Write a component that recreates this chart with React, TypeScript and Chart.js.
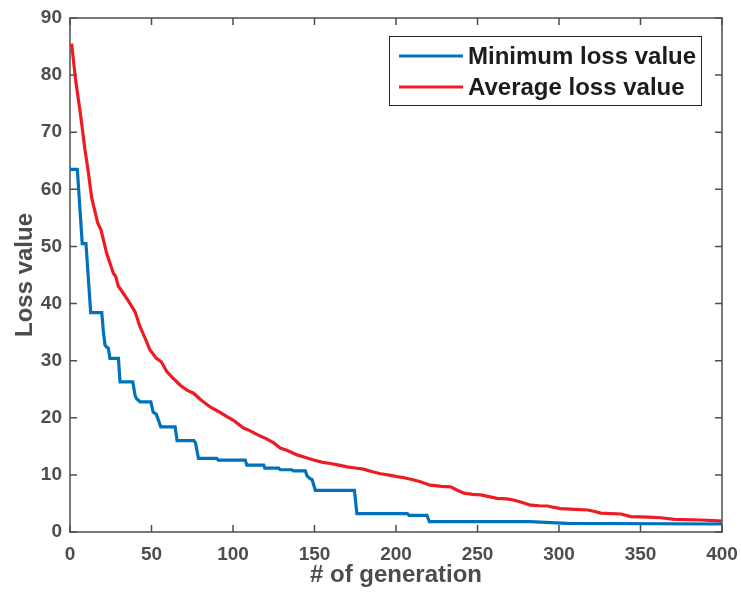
import { useEffect, useRef } from "react";
import { Chart, registerables } from "chart.js";

Chart.register(...registerables);

// Best (minimum) loss per generation, as corner points of the step curve
const minGen = [
  0, 4.5, 7.5, 9.8, 12.7, 19.5, 20.5, 21.5, 22.5, 23.5, 24.5, 29.7, 30.7, 38.5, 40, 41, 43, 49.6, 51, 53,
  55.7, 64.5, 65.7, 76, 77, 78.8, 90, 91, 107.5, 108.5, 118.8, 119.5, 128, 129, 136, 137, 144.4, 145.5,
  147.5, 148.5, 150.5, 174.5, 176, 207, 208, 219, 220.5, 282, 305, 400,
];
const minLoss = [
  63.5, 63.5, 50.5, 50.5, 38.4, 38.4, 35, 32.7, 32.4, 32.2, 30.4, 30.4, 26.3, 26.3, 23.8, 23.3, 22.8, 22.8,
  21.0, 20.6, 18.4, 18.4, 16.0, 16.0, 15.6, 12.9, 12.9, 12.6, 12.6, 11.7, 11.7, 11.2, 11.2, 10.9, 10.9,
  10.7, 10.7, 9.8, 9.3, 9.2, 7.3, 7.3, 3.2, 3.2, 2.9, 2.9, 1.8, 1.8, 1.5, 1.4,
];

// Population average loss per generation
const avgGen = [
  1, 3.5, 6.5, 9.2, 11, 13.3, 15, 17, 19, 22.5, 26.6, 28, 29.7, 31, 33.4, 37.9, 40, 43, 46, 49, 53, 56,
  59.4, 63, 67.6, 72, 75.8, 80, 86, 91, 96.3, 100, 106.5, 110, 116.7, 120, 125, 129, 133, 139.3, 145,
  149.5, 155, 159.8, 165, 170, 175, 180, 185, 190.5, 195, 200.7, 205, 211, 215, 221, 228, 233.5, 237,
  241.7, 247, 252, 257, 262, 268, 272, 277, 282.6, 288, 293, 297, 301, 310, 317.5, 322, 325.6, 338, 344,
  355, 362.5, 370.7, 387, 395, 400,
];
const avgLoss = [
  85.5, 79, 73, 66.9, 63.5, 58.5, 56.5, 54.1, 52.9, 48.8, 45.3, 44.8, 43, 42.5, 41.5, 39.5, 38.5, 35.9, 34,
  31.9, 30.4, 29.8, 28.1, 27, 25.7, 24.8, 24.3, 23.2, 21.9, 21.1, 20.2, 19.6, 18.2, 17.8, 16.8, 16.4, 15.6,
  14.7, 14.3, 13.5, 13, 12.6, 12.2, 12.0, 11.7, 11.4, 11.2, 11.0, 10.6, 10.2, 10.0, 9.7, 9.5, 9.1, 8.8,
  8.2, 8.0, 7.9, 7.4, 6.8, 6.6, 6.5, 6.2, 5.9, 5.8, 5.6, 5.2, 4.7, 4.6, 4.55, 4.3, 4.1, 3.95, 3.85, 3.6,
  3.3, 3.15, 2.7, 2.6, 2.5, 2.2, 2.1, 2.0, 1.9,
];

const seriesLabels = ["Minimum loss value", "Average loss value"];
const seriesColors = ["#0072BD", "#ED1C24"];
const xTicks = [0, 50, 100, 150, 200, 250, 300, 350, 400];
const yTicks = [0, 10, 20, 30, 40, 50, 60, 70, 80, 90];
const xTitle = "# of generation";
const yTitle = "Loss value";

const FONT = "'Liberation Sans', Arial, Helvetica, sans-serif";
const AXIS_COLOR = "#4d4d4d";
const TEXT_COLOR = "#1c1c1c";

// Box around the plot with inward tick marks on all four sides
const framePlugin = {
  id: "frame",
  beforeDatasetsDraw(chart: any) {
    const { ctx, chartArea, scales } = chart;
    const { left, right, top, bottom } = chartArea;
    const len = 7;
    ctx.save();
    ctx.strokeStyle = AXIS_COLOR;
    ctx.lineWidth = 1.5;
    ctx.strokeRect(left, top, right - left, bottom - top);
    ctx.beginPath();
    for (const v of xTicks) {
      const px = scales.x.getPixelForValue(v);
      ctx.moveTo(px, bottom);
      ctx.lineTo(px, bottom - len);
      ctx.moveTo(px, top);
      ctx.lineTo(px, top + len);
    }
    for (const v of yTicks) {
      const py = scales.y.getPixelForValue(v);
      ctx.moveTo(left, py);
      ctx.lineTo(left + len, py);
      ctx.moveTo(right, py);
      ctx.lineTo(right - len, py);
    }
    ctx.stroke();
    ctx.restore();
  },
};

// Boxed legend in the upper-right corner of the plot
const boxLegendPlugin = {
  id: "boxLegend",
  afterDraw(chart: any) {
    const { ctx, chartArea } = chart;
    const w = 312;
    const h = 69;
    const x0 = chartArea.right - 21 - w;
    const y0 = chartArea.top + 18;
    ctx.save();
    ctx.fillStyle = "#ffffff";
    ctx.fillRect(x0, y0, w, h);
    ctx.strokeStyle = "#262626";
    ctx.lineWidth = 1;
    ctx.strokeRect(x0 + 0.5, y0 + 0.5, w, h);
    ctx.font = `bold 24px ${FONT}`;
    ctx.textBaseline = "middle";
    ctx.textAlign = "left";
    chart.data.datasets.forEach((ds: any, i: number) => {
      const cy = y0 + 20 + i * 31;
      ctx.strokeStyle = ds.borderColor;
      ctx.lineWidth = 3;
      ctx.beginPath();
      ctx.moveTo(x0 + 10, cy);
      ctx.lineTo(x0 + 74, cy);
      ctx.stroke();
      ctx.fillStyle = TEXT_COLOR;
      ctx.fillText(ds.label, x0 + 79, cy + 1);
    });
    ctx.restore();
  },
};

export default function App() {
  const canvasRef = useRef<HTMLCanvasElement | null>(null);

  useEffect(() => {
    const canvas = canvasRef.current;
    if (!canvas) return;
    const chart = new Chart(canvas, {
      type: "line",
      data: {
        datasets: [
          {
            label: seriesLabels[0],
            data: minGen.map((g, i) => ({ x: g, y: minLoss[i] })),
            borderColor: seriesColors[0],
            borderWidth: 3.2,
            pointRadius: 0,
            tension: 0,
            fill: false,
          },
          {
            label: seriesLabels[1],
            data: avgGen.map((g, i) => ({ x: g, y: avgLoss[i] })),
            borderColor: seriesColors[1],
            borderWidth: 3.2,
            pointRadius: 0,
            tension: 0,
            fill: false,
          },
        ],
      },
      options: {
        responsive: false,
        animation: false,
        events: [],
        layout: { padding: { top: 18, right: 19, left: 0, bottom: 0 } },
        plugins: {
          legend: { display: false },
          tooltip: { enabled: false },
        },
        scales: {
          x: {
            type: "linear",
            min: 0,
            max: 400,
            afterFit: (s: any) => {
              s.height = 61;
              s.paddingLeft = 0;
              s.paddingRight = 0;
            },
            afterBuildTicks: (s: any) => {
              s.ticks = xTicks.map((v) => ({ value: v }));
            },
            grid: { display: false, drawTicks: false },
            border: { display: false },
            ticks: {
              color: AXIS_COLOR,
              padding: 11,
              maxRotation: 0,
              font: { family: FONT, size: 19, weight: "bold" },
            },
            title: {
              display: true,
              text: xTitle,
              color: AXIS_COLOR,
              padding: { top: 0, bottom: 3 },
              font: { family: FONT, size: 24, weight: "bold" },
            },
          },
          y: {
            type: "linear",
            min: 0,
            max: 90,
            afterFit: (s: any) => {
              s.width = 70;
              s.paddingTop = 0;
              s.paddingBottom = 0;
            },
            afterBuildTicks: (s: any) => {
              s.ticks = yTicks.map((v) => ({ value: v }));
            },
            grid: { display: false, drawTicks: false },
            border: { display: false },
            ticks: {
              color: AXIS_COLOR,
              padding: 8,
              font: { family: FONT, size: 19, weight: "bold" },
            },
            title: {
              display: true,
              text: yTitle,
              color: AXIS_COLOR,
              padding: { top: 11, bottom: 0 },
              font: { family: FONT, size: 24, weight: "bold" },
            },
          },
        },
      },
      plugins: [framePlugin, boxLegendPlugin],
    });
    return () => chart.destroy();
  }, []);

  return (
    <div style={{ position: "fixed", left: 0, top: 0, width: 741, height: 593, background: "#ffffff" }}>
      <canvas ref={canvasRef} width={741} height={593} style={{ display: "block" }} />
    </div>
  );
}
